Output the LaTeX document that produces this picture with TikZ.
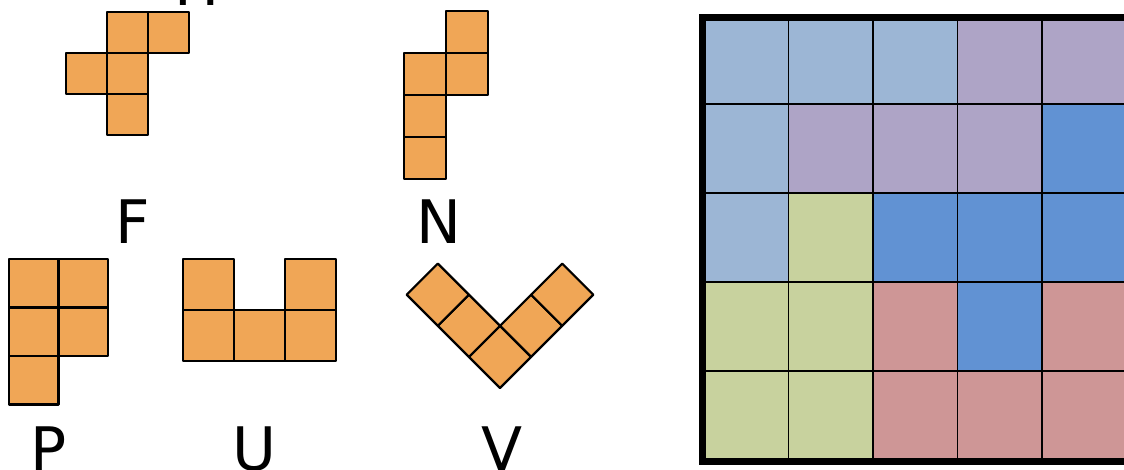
\documentclass[tikz,border=0pt]{standalone}
\usepackage{fontspec}
\setmainfont{DejaVu Sans}
\definecolor{tileorange}{HTML}{F0A656}
\definecolor{lightblue}{HTML}{9CB6D5}
\definecolor{lilac}{HTML}{AEA4C6}
\definecolor{midblue}{HTML}{6192D3}
\definecolor{sage}{HTML}{C8D29E}
\definecolor{rose}{HTML}{CE9696}
\tikzset{
  tile/.style={fill=tileorange, draw=black, line width=1.1pt, line join=round},
  piecelabel/.style={anchor=base, inner sep=0pt, font=\fontsize{30}{36}\selectfont},
  cell/.style={draw=black, line width=0.9pt},
}
\begin{document}
\begin{tikzpicture}[x=0.5pt, y=-0.5pt]
\useasboundingbox (0,0) rectangle (1124,470);
% pentominoes
\foreach \c/\r in {1/0,2/0,0/1,1/1,1/2}
  \draw[tile] ({66+41*\c},{12+41*\r}) rectangle ++(41,41);
\foreach \c/\r in {1/0,0/1,1/1,0/2,0/3}
  \draw[tile] ({404+42*\c},{11+42*\r}) rectangle ++(42,42);
\foreach \c/\r in {0/0,1/0,0/1,1/1,0/2}
  \draw[tile] ({9+49.5*\c},{259+48.5*\r}) rectangle ++(49.5,48.5);
\foreach \c/\r in {0/0,2/0,0/1,1/1,2/1}
  \draw[tile] ({183+51*\c},{259+51*\r}) rectangle ++(51,51);
\foreach \bx/\by in {500/388,468.9/356.9,437.8/325.8,531.1/356.9,562.2/325.8}
  \draw[tile] (\bx,\by) -- ++(-31.1,-31.1) -- ++(31.1,-31.1) -- ++(31.1,31.1) -- cycle;
% labels
\node[piecelabel] (lblH) at (197.5,6) {H};
\node[piecelabel] (lblF) at (133,243) {F};
\node[piecelabel] (lblN) at (439,243) {N};
\node[piecelabel] (lblP) at (49,470) {P};
\node[piecelabel] (lblU) at (254.5,470) {U};
\node[piecelabel] (lblV) at (502.5,470) {V};
% filled board
\foreach \row [count=\j from 0] in {{lightblue,lightblue,lightblue,lilac,lilac},
    {lightblue,lilac,lilac,lilac,midblue},
    {lightblue,sage,midblue,midblue,midblue},
    {sage,sage,rose,midblue,rose},
    {sage,sage,rose,rose,rose}}
  \foreach \col [count=\i from 0] in \row
    \draw[cell, fill=\col] ({704+84.5*\i},{15+89*\j}) rectangle ++(84.5,89);
\draw[line width=3.5pt] (702.5,18) rectangle (1130,461.5);
\end{tikzpicture}
\end{document}
